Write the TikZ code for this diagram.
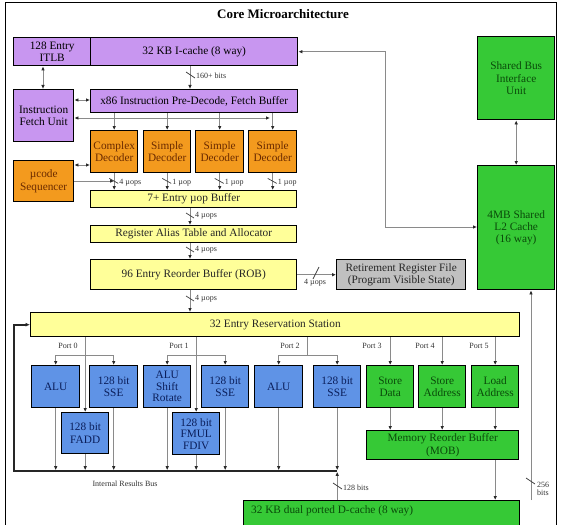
\documentclass[tikz,border=0pt]{standalone}
\usepackage{fontspec}
\setmainfont{Liberation Serif}
\usetikzlibrary{arrows.meta,calc}
\definecolor{purp}{HTML}{C896F0}
\definecolor{orng}{HTML}{F39A1E}
\definecolor{yel}{HTML}{FFFF99}
\definecolor{blu}{HTML}{5F93E6}
\definecolor{grn}{HTML}{36C936}
\definecolor{gry}{HTML}{C0C0C0}
\definecolor{ln}{HTML}{8A8A8A}
\definecolor{tipc}{HTML}{2A2A2A}
\definecolor{otxt}{HTML}{6A2A00}
\definecolor{btxt}{HTML}{0A1E5A}
\definecolor{gtxt}{HTML}{0A4A0A}
\begin{document}
\begin{tikzpicture}[x=1pt,y=-1pt,
 blk/.style={draw=black, line width=1.4pt, anchor=north west, inner sep=1pt, align=center, font=\fontsize{11.3}{12.3}\selectfont},
 pbox/.style={blk, fill=purp, text=black},
 obox/.style={blk, fill=orng, text=otxt},
 ybox/.style={blk, fill=yel, text=black!85},
 bbox/.style={blk, fill=blu, text=btxt},
 gbox/.style={blk, fill=grn, text=gtxt},
 conn/.style={draw=ln, line width=0.9pt},
 arr/.style={conn, -{Latex[length=4pt,width=3.6pt,color=tipc]}},
 darr/.style={conn, {Latex[length=4pt,width=3.6pt,color=tipc]}-{Latex[length=4pt,width=3.6pt,color=tipc]}},
 busline/.style={draw=black!85, line width=1.6pt},
 lbl/.style={font=\fontsize{8}{8.5}\selectfont, text=black!80, inner sep=1pt},
 slashst/.style={draw=black!75, line width=0.7pt},
]
\useasboundingbox (0,0) rectangle (561,524);
\fill[white] (0,0) rectangle (561,524);
\begin{scope}
\clip (0,0) rectangle (561,524);
\draw[line width=1pt] (5,600) -- (5,3) -- (556,3) -- (556,600);

\node[font=\fontsize{13}{14}\selectfont\bfseries] (title) at (283,14) {Core Microarchitecture};

% front end
\node[pbox, minimum width=77pt, minimum height=28pt] (itlb) at (13,37) {128 Entry\\ITLB};
\node[pbox, minimum width=207pt, minimum height=28pt] (ic) at (90,37) {32 KB I-cache (8 way)};
\node[pbox, minimum width=207pt, minimum height=23pt] (pd) at (90,89) {x86 Instruction Pre-Decode, Fetch Buffer};
\node[pbox, minimum width=60pt, minimum height=52pt] (ifu) at (13,89) {Instruction\\Fetch Unit};
\node[obox, minimum width=47pt, minimum height=42pt] (d1) at (90,130) {Complex\\Decoder};
\node[obox, minimum width=47pt, minimum height=42pt] (d2) at (143,130) {Simple\\Decoder};
\node[obox, minimum width=48pt, minimum height=42pt] (d3) at (195,130) {Simple\\Decoder};
\node[obox, minimum width=48pt, minimum height=42pt] (d4) at (248,130) {Simple\\Decoder};
\node[obox, minimum width=60pt, minimum height=41pt] (uc) at (13,160) {µcode\\Sequencer};
\node[ybox, minimum width=206pt, minimum height=17pt] (ub) at (90,190) {7+ Entry µop Buffer};
\node[ybox, minimum width=206pt, minimum height=17pt] (rat) at (90,225) {Register Alias Table and Allocator};
\node[ybox, minimum width=206pt, minimum height=30pt] (rob) at (90,259) {96 Entry Reorder Buffer (ROB)};
\node[blk, fill=gry, text=black!85, minimum width=129pt, minimum height=30pt] (rrf) at (336,259) {Retirement Register File\\(Program Visible State)};
\node[gbox, minimum width=77pt, minimum height=83pt] (sbiu) at (477,36) {Shared Bus\\Interface\\Unit};
\node[gbox, minimum width=77pt, minimum height=124pt] (l2) at (477,165) {4MB Shared\\L2 Cache\\(16 way)};
\node[ybox, minimum width=489pt, minimum height=24pt] (rs) at (30,312) {32 Entry Reservation Station};

% execution units
\node[bbox, minimum width=48pt, minimum height=42pt] (alu0) at (31,365) {ALU};
\node[bbox, minimum width=48pt, minimum height=42pt] (sse0) at (89,365) {128 bit\\SSE};
\node[bbox, minimum width=47pt, minimum height=41pt] (fadd) at (61,412) {128 bit\\FADD};
\node[bbox, minimum width=47pt, minimum height=42pt, font=\fontsize{11.3}{11.5}\selectfont] (alu1) at (143,365) {ALU\\Shift\\Rotate};
\node[bbox, minimum width=47pt, minimum height=42pt] (sse1) at (201,365) {128 bit\\SSE};
\node[bbox, minimum width=47pt, minimum height=42pt, font=\fontsize{11.3}{11.5}\selectfont] (fmul) at (172,412) {128 bit\\FMUL\\FDIV};
\node[bbox, minimum width=48pt, minimum height=42pt] (alu2) at (254,365) {ALU};
\node[bbox, minimum width=47pt, minimum height=42pt] (sse2) at (313,365) {128 bit\\SSE};
\node[gbox, minimum width=47pt, minimum height=42pt] (sd) at (366,365) {Store\\Data};
\node[gbox, minimum width=47pt, minimum height=42pt] (sa) at (418,365) {Store\\Address};
\node[gbox, minimum width=47pt, minimum height=42pt] (la) at (471,365) {Load\\Address};
\node[gbox, minimum width=152pt, minimum height=29pt] (mob) at (366,430) {Memory Reorder Buffer\\(MOB)};
\node[gbox, minimum width=276pt, minimum height=44pt] (dc) at (243,500) {};
\node[anchor=west, inner sep=0pt, text=gtxt, font=\fontsize{11.3}{12.3}\selectfont] (dct) at (251,511) {32 KB dual ported D-cache (8 way)};

% helper coordinates
\coordinate (c43) at (43,0);
\coordinate (c190) at (190,0);
\coordinate (y100) at (0,100);
\coordinate (y118) at (0,118);
\coordinate (f272) at (270,118);
\coordinate (y165) at (0,165);
\coordinate (y181) at (0,181);
\coordinate (r385) at (385,0);
\coordinate (y227) at (0,227);
\coordinate (r531) at (531,0);
\coordinate (y355) at (0,355);
\coordinate (p307) at (307,0);
\coordinate (y471) at (0,471);
\coordinate (l14) at (14,0);

% front-end connectors
\draw[darr] (itlb.south -| c43) -- (ifu.north -| c43);
\draw[arr] (ic.south -| c190) -- (pd.north -| c190);
\draw[slashst] (186,72) -- (195,78);
\node[lbl, anchor=west] (l160) at (195,76) {160+ bits};
\draw[darr] (ifu.east |- y100) -- (pd.west |- y100);
\draw[darr] (ifu.east |- y118) -- (f272);
\foreach \d in {d1,d2,d3,d4} \draw[arr] (pd.south -| \d) -- (\d.north);
\draw[darr] (uc.east |- y165) -- (d1.west |- y165);
\draw[arr] (uc.east |- y181) -- (d1.south |- y181);
\foreach \d/\t in {d1/4 µops,d2/1 µop,d3/1 µop,d4/1 µop}{
  \draw[arr] (\d.south) -- (ub.north -| \d);
  \draw[slashst] ($(\d.south)+(-5,5)$) -- ++(9,5);
  \node[lbl, anchor=west] at ($(\d.south)+(4,9)$) {\t};
}
\draw[arr] (ub.south -| c190) -- (rat.north -| c190);
\draw[slashst] (186,213) -- (194,218);
\node[lbl, anchor=west] at (194,216) {4 µops};
\draw[arr] (rat.south -| c190) -- (rob.north -| c190);
\draw[slashst] (186,247) -- (194,252);
\node[lbl, anchor=west] at (194,250) {4 µops};
\draw[arr] (rob.south -| c190) -- (rs.north -| c190);
\draw[slashst] (186,296) -- (194,301);
\node[lbl, anchor=west] at (194,299) {4 µops};
\draw[arr] (rob.east |- rrf) -- (rrf.west);
\draw[slashst] (313,279) -- (319,267);
\node[lbl] at (315,283) {4 µops};
\draw[darr] (ic.east) -| (r385 |- y227) -- (l2.west |- y227);
\draw[darr] (sbiu.south) -- (l2.north);
\draw[arr] (dc.north -| r531) -- (l2.south -| r531);
\draw[slashst] (526,478) -- (535,484);
\node[lbl, anchor=west, align=left] at (536,489) {256\\bits};

% ports
\draw[arr] (rs.south -| fadd) -- (fadd.north);
\draw[arr] (sse0 |- y355) -| (alu0.north);
\draw[arr] (alu0 |- y355) -| (sse0.north);
\node[lbl] at (68,346) {Port 0};
\draw[arr] (rs.south -| fmul) -- (fmul.north);
\draw[arr] (sse1 |- y355) -| (alu1.north);
\draw[arr] (alu1 |- y355) -| (sse1.north);
\node[lbl] at (179,346) {Port 1};
\draw[conn] (rs.south -| p307) -- (p307 |- y355);
\draw[arr] (sse2 |- y355) -| (alu2.north);
\draw[arr] (alu2 |- y355) -| (sse2.north);
\node[lbl] at (290,346) {Port 2};
\draw[arr] (rs.south -| sd) -- (sd.north);
\node[lbl] at (372,346) {Port 3};
\draw[arr] (rs.south -| sa) -- (sa.north);
\node[lbl] at (425,346) {Port 4};
\draw[arr] (rs.south -| la) -- (la.north);
\node[lbl] at (479,346) {Port 5};
\foreach \u in {sd,sa,la} \draw[arr] (\u.south) -- (mob.north -| \u);
\draw[arr] (mob.south -| la) -- (dc.north -| la);

% results bus
\draw[busline, -{Latex[length=4.5pt,width=4pt]}] (sse2 |- y471) -- (l14 |- y471) -- (l14 |- rs) -- (rs.west);
\foreach \u in {alu0,fadd,sse0,alu1,fmul,sse1,alu2,sse2} \draw[arr, shorten >=0.8pt] (\u.south) -- (\u |- y471);
\draw[arr, shorten >=0.8pt] (dc.north -| sse2) -- (sse2 |- y471);
\draw[slashst] (333,483) -- (342,489);
\node[lbl, anchor=west] at (342,488) {128 bits};
\node[lbl] (irb) at (125,484) {Internal Results Bus};
\end{scope}
\end{tikzpicture}
\end{document}
